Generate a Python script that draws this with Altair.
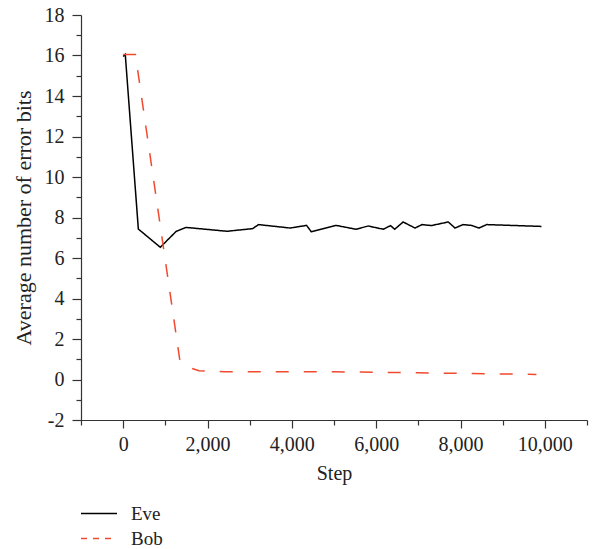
import altair as alt
import pandas as pd

# Average number of error bits per training step
eve_step = [0, 50, 360, 880, 1260, 1490, 2460, 3070, 3210, 3960, 4350, 4460,
            5050, 5520, 5810, 6170, 6340, 6440, 6640, 6920, 7090, 7310, 7710,
            7870, 8060, 8260, 8440, 8620, 9920]
eve_bits = [15.95, 16.05, 7.43, 6.53, 7.32, 7.51, 7.32, 7.45, 7.65, 7.48, 7.61,
            7.30, 7.61, 7.42, 7.58, 7.42, 7.60, 7.42, 7.78, 7.48, 7.65, 7.60,
            7.78, 7.48, 7.65, 7.61, 7.48, 7.65, 7.56]

bob_step = [0, 290, 1340, 1530, 1800, 2400, 5000, 6000, 7000, 8000, 9800]
bob_bits = [16.05, 16.05, 1.00, 0.62, 0.43, 0.38, 0.38, 0.36, 0.33, 0.30, 0.25]

series = ["Eve", "Bob"]
colors = ["#000000", "#ef4a2f"]

x_ticks = list(range(-1000, 11001, 1000))
y_ticks = list(range(-2, 19, 1))

eve_df = pd.DataFrame({"step": eve_step, "bits": eve_bits, "who": "Eve",
                       "order": range(len(eve_step))})
bob_df = pd.DataFrame({"step": bob_step, "bits": bob_bits, "who": "Bob",
                       "order": range(len(bob_step))})

FONT = "Liberation Serif"
AXIS_COLOR = "#333333"
TEXT_COLOR = "#222222"

x_axis = alt.Axis(
    values=x_ticks,
    title="Step",
    labelExpr="datum.value % 2000 === 0 ? format(datum.value, ',') : ''",
    tickSize={"condition": {"test": "datum.value % 2000 === 0", "value": 8}, "value": 5},
    grid=False,
    labelOverlap=False,
    labelBound=False,
    labelPadding=6,
    titlePadding=9,
    titleFontSize=20,
)
y_axis = alt.Axis(
    values=y_ticks,
    title="Average number of error bits",
    labelExpr="datum.value % 2 === 0 ? '' + datum.value : ''",
    tickSize={"condition": {"test": "datum.value % 2 === 0", "value": 9}, "value": 5},
    grid=False,
    labelOverlap=False,
    labelBound=False,
    labelPadding=8,
    titlePadding=9,
    titleFontSize=22,
)

x_enc = alt.X("step:Q", scale=alt.Scale(domain=[-1000, 11000], nice=False), axis=x_axis)
y_enc = alt.Y("bits:Q", scale=alt.Scale(domain=[-2, 18], nice=False), axis=y_axis)
legend = alt.Legend(
    title=None,
    orient="none",
    legendX=-1,
    legendY=486,
    direction="vertical",
    symbolType="stroke",
    symbolSize=1296,
    symbolStrokeWidth=1.5,
    clipHeight=25,
    labelFont=FONT,
    labelFontSize=19,
    labelColor=TEXT_COLOR,
    labelOffset=13,
    rowPadding=0,
)
color_enc = alt.Color("who:N", scale=alt.Scale(domain=series, range=colors), legend=legend)
# the legend swatch uses a short dash; the plotted Bob line a longer one
dash_enc = alt.StrokeDash("who:N", scale=alt.Scale(domain=series, range=[[1, 0], [6, 6]]),
                          legend=legend)

eve_line = alt.Chart(eve_df).mark_line(strokeWidth=1.5).encode(
    x=x_enc, y=y_enc, color=color_enc, strokeDash=dash_enc, order="order:Q"
)
bob_line = alt.Chart(bob_df).mark_line(strokeWidth=1.5, strokeDash=[13, 15]).encode(
    x=x_enc, y=y_enc, color=color_enc, order="order:Q"
)

chart = alt.layer(eve_line, bob_line).properties(
    width=506,
    height=405,
    autosize=alt.AutoSizeParams(type="none"),
    padding={"left": 81, "top": 15, "right": 10, "bottom": 129},
).configure_view(
    stroke=None
).configure_axis(
    domainColor=AXIS_COLOR,
    tickColor=AXIS_COLOR,
    domainWidth=1.2,
    tickWidth=1.2,
    labelFont=FONT,
    labelFontSize=20,
    labelColor=TEXT_COLOR,
    titleFont=FONT,
    titleFontWeight="normal",
    titleColor=TEXT_COLOR,
)

chart.save("out.html", embed_options={"renderer": "svg", "actions": False})
